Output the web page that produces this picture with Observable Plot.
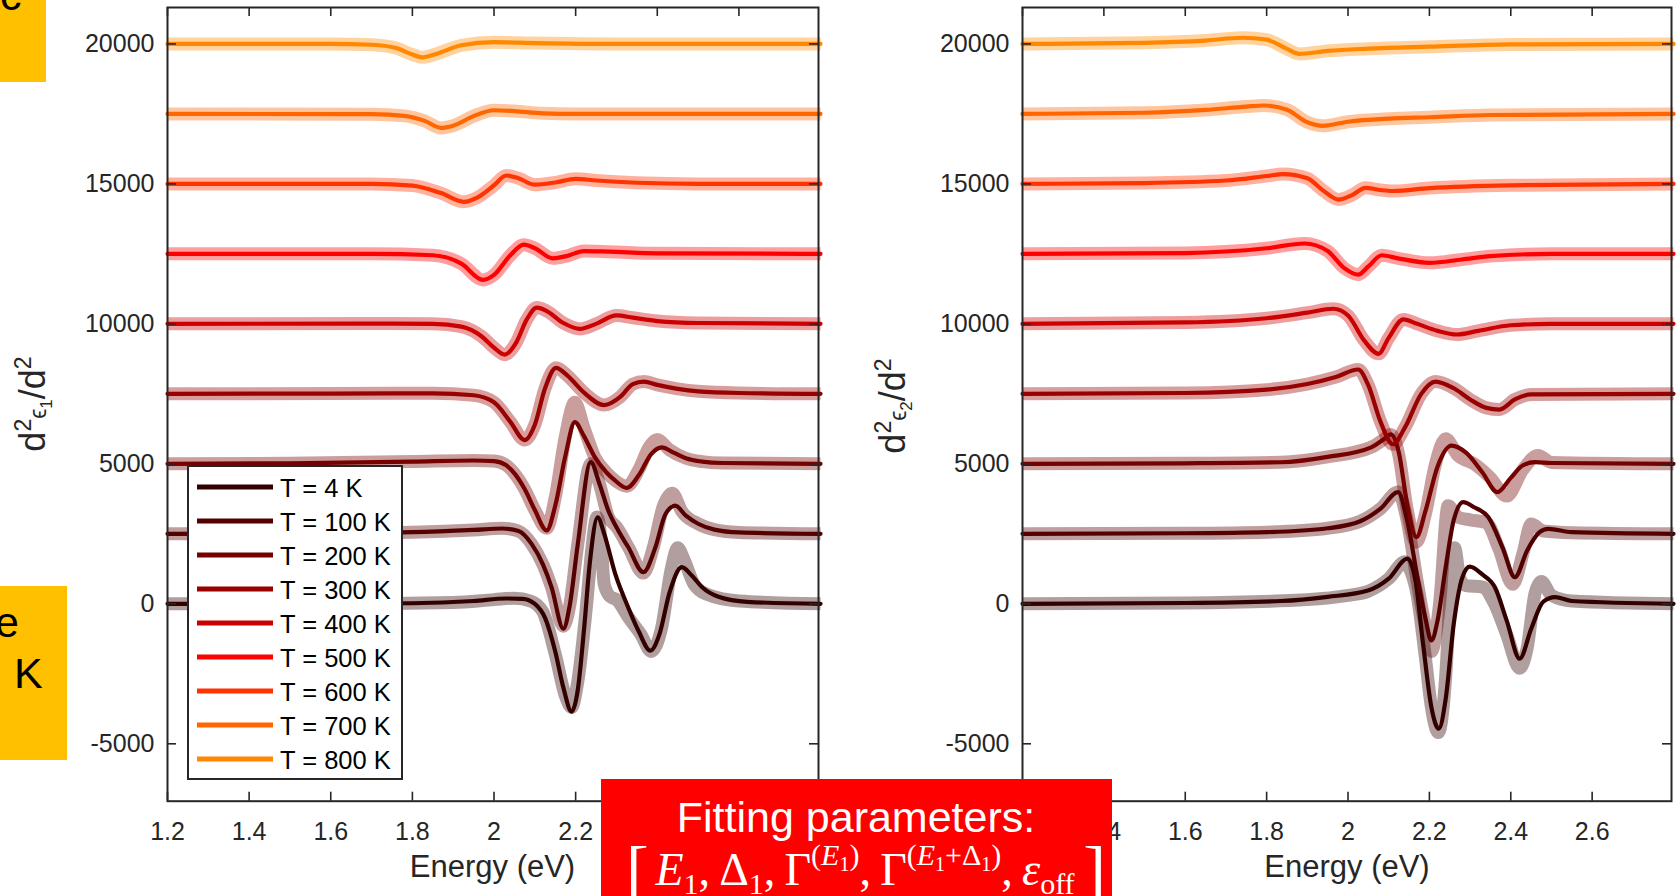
<!DOCTYPE html>
<html>
<head>
<meta charset="utf-8">
<script src="https://cdn.jsdelivr.net/npm/d3@7"></script>
<script src="https://cdn.jsdelivr.net/npm/@observablehq/plot@0.6"></script>
<style>
  html, body { margin: 0; padding: 0; background: #fff; }
  #stage { position: relative; width: 1678px; height: 896px; overflow: hidden; background: #fff;
           font-family: "Liberation Sans", Arial, sans-serif; }
  #stage > svg { position: absolute; top: 0; }
</style>
</head>
<body>
<div id="stage"></div>
<script>
// Temperatures and their line colours (dark red -> orange)
const temperatures = [4, 100, 200, 300, 400, 500, 600, 700, 800];
const lineColors = ["#330000", "#550000", "#770000", "#990000", "#cc0000", "#ff0000", "#ff3300", "#ff6600", "#ff8800"];

// Axis ticks
const xTicks = [1.2, 1.4, 1.6, 1.8, 2.0, 2.2, 2.4, 2.6];
const yTicks = [-5000, 0, 5000, 10000, 15000, 20000];

// d2 eps1 / dE2 : fitted curves, [energy (eV), value] (curves offset by 2500 per temperature)
const e1Fit4 = [[1.2,0],[1.5,0],[1.8,20],[1.95,100],[2.03,190],[2.07,180],[2.1,0],[2.125,-500],[2.15,-1700],[2.17,-3000],[2.19,-3850],[2.205,-3100],[2.22,-1000],[2.235,1500],[2.254,3090],[2.27,2500],[2.297,1070],[2.325,0],[2.355,-1000],[2.383,-1670],[2.405,-1100],[2.43,400],[2.46,1310],[2.485,1000],[2.51,590],[2.55,250],[2.62,70],[2.8,0]];
const e1Fit100 = [[1.2,2500],[1.5,2510],[1.8,2560],[1.95,2640],[2.02,2690],[2.06,2600],[2.092,2140],[2.12,1400],[2.141,590],[2.17,-890],[2.185,-100],[2.205,2100],[2.237,5060],[2.258,4300],[2.28,3330],[2.305,2600],[2.329,2020],[2.366,1130],[2.395,2000],[2.42,3200],[2.444,3510],[2.47,3150],[2.5,2860],[2.54,2650],[2.6,2550],[2.8,2500]];
const e1Fit200 = [[1.2,5000],[1.5,5020],[1.8,5080],[1.95,5120],[2.0,5100],[2.03,4950],[2.051,4640],[2.075,4100],[2.1,3350],[2.129,2620],[2.15,3500],[2.175,5300],[2.198,6490],[2.22,6000],[2.247,5240],[2.275,4700],[2.297,4400],[2.325,4140],[2.355,4600],[2.385,5350],[2.411,5590],[2.44,5400],[2.47,5200],[2.51,5080],[2.56,5030],[2.8,5000]];
const e1Fit300 = [[1.2,7500],[1.6,7510],[1.85,7520],[1.95,7450],[2.0,7200],[2.04,6500],[2.075,5850],[2.1,6400],[2.125,7700],[2.152,8430],[2.18,8150],[2.22,7550],[2.27,7100],[2.31,7400],[2.34,7850],[2.367,7940],[2.4,7820],[2.45,7680],[2.5,7590],[2.6,7530],[2.8,7500]];
const e1Fit400 = [[1.2,10000],[1.7,10010],[1.85,10000],[1.92,9900],[1.97,9550],[2.0,9150],[2.026,8900],[2.055,9350],[2.08,10150],[2.105,10580],[2.13,10450],[2.17,10030],[2.21,9820],[2.25,10000],[2.3,10300],[2.34,10220],[2.4,10100],[2.5,10030],[2.8,10000]];
const e1Fit500 = [[1.2,12500],[1.7,12500],[1.85,12450],[1.92,12150],[1.973,11570],[2.0,11750],[2.04,12450],[2.073,12830],[2.1,12700],[2.144,12340],[2.18,12430],[2.22,12600],[2.28,12580],[2.4,12520],[2.8,12500]];
const e1Fit600 = [[1.2,15000],[1.7,15000],[1.8,14940],[1.87,14670],[1.926,14360],[1.96,14520],[2.0,14950],[2.03,15300],[2.06,15200],[2.1,14970],[2.15,15050],[2.2,15180],[2.25,15120],[2.35,15040],[2.5,15000],[2.8,15000]];
const e1Fit700 = [[1.2,17500],[1.7,17490],[1.78,17430],[1.83,17250],[1.87,17000],[1.9,17080],[1.95,17420],[2.0,17630],[2.05,17600],[2.12,17520],[2.2,17500],[2.8,17500]];
const e1Fit800 = [[1.2,20000],[1.6,20000],[1.7,19970],[1.76,19850],[1.8,19620],[1.823,19520],[1.86,19650],[1.92,19950],[2.0,20060],[2.1,20030],[2.3,20000],[2.8,20000]];

// d2 eps1 / dE2 : measured data where it departs from the fit
const e1Data4 = [[1.2,0],[1.6,0],[1.9,50],[2.0,150],[2.05,200],[2.09,100],[2.12,-300],[2.15,-1800],[2.175,-3300],[2.19,-3700],[2.205,-2800],[2.225,-300],[2.24,2000],[2.252,3100],[2.262,2300],[2.27,700],[2.285,250],[2.3,150],[2.33,-500],[2.36,-1100],[2.385,-1700],[2.41,-900],[2.435,1300],[2.45,2000],[2.465,1600],[2.49,700],[2.52,350],[2.6,100],[2.8,0]];
const e1Data100 = [[1.2,2500],[1.5,2510],[1.8,2560],[1.95,2640],[2.02,2700],[2.06,2600],[2.092,2140],[2.12,1400],[2.141,590],[2.17,-800],[2.185,-100],[2.205,2100],[2.237,5000],[2.258,4300],[2.28,3100],[2.3,2750],[2.33,2000],[2.366,1100],[2.39,2000],[2.415,3500],[2.437,3950],[2.46,3300],[2.5,2860],[2.54,2650],[2.6,2550],[2.8,2500]];
const e1Data200 = [[1.2,5000],[1.5,5020],[1.8,5080],[1.95,5120],[2.0,5100],[2.03,4950],[2.051,4640],[2.075,4100],[2.1,3350],[2.129,2700],[2.15,3800],[2.175,6000],[2.198,7200],[2.22,6300],[2.247,5240],[2.275,4700],[2.297,4400],[2.325,4200],[2.355,4800],[2.38,5600],[2.4,5870],[2.43,5500],[2.47,5200],[2.51,5080],[2.56,5030],[2.8,5000]];

// d2 eps2 / dE2 : fitted curves
const e2Fit4 = [[1.2,0],[1.6,30],[1.835,100],[1.95,250],[2.049,475],[2.1,900],[2.146,1610],[2.165,900],[2.185,-1500],[2.205,-3700],[2.223,-4460],[2.24,-3400],[2.26,-700],[2.28,900],[2.299,1330],[2.33,1050],[2.361,590],[2.39,-600],[2.422,-1960],[2.45,-900],[2.48,80],[2.509,240],[2.55,100],[2.8,0]];
const e2Fit100 = [[1.2,2500],[1.6,2520],[1.8,2560],[1.95,2700],[2.03,2950],[2.08,3400],[2.123,3990],[2.145,3000],[2.17,1000],[2.19,-500],[2.205,-1310],[2.22,-600],[2.24,1300],[2.26,3000],[2.283,3630],[2.31,3450],[2.345,3090],[2.38,2000],[2.41,950],[2.44,1900],[2.47,2550],[2.492,2680],[2.55,2560],[2.8,2500]];
const e2Fit200 = [[1.2,5000],[1.6,5020],[1.835,5057],[1.95,5250],[2.057,5590],[2.09,5900],[2.105,6050],[2.125,5400],[2.145,3600],[2.168,2380],[2.19,3300],[2.22,4900],[2.254,5650],[2.29,5400],[2.33,4700],[2.367,3990],[2.4,4500],[2.43,4950],[2.459,5060],[2.5,5030],[2.8,5000]];
const e2Fit300 = [[1.2,7500],[1.6,7530],[1.8,7650],[1.9,7850],[1.97,8100],[2.025,8370],[2.05,7800],[2.08,6500],[2.11,5700],[2.14,6300],[2.18,7500],[2.215,7940],[2.26,7700],[2.3,7300],[2.34,7000],[2.372,6940],[2.41,7300],[2.45,7480],[2.8,7500]];
const e2Fit400 = [[1.2,10000],[1.6,10050],[1.8,10200],[1.9,10400],[1.964,10540],[2.0,10300],[2.04,9400],[2.075,8930],[2.1,9500],[2.136,10160],[2.17,10000],[2.22,9750],[2.267,9620],[2.32,9750],[2.4,9950],[2.5,10000],[2.8,10000]];
const e2Fit500 = [[1.2,12500],[1.6,12530],[1.8,12700],[1.893,12870],[1.95,12600],[1.99,12000],[2.025,11760],[2.05,12050],[2.083,12450],[2.12,12350],[2.2,12180],[2.28,12300],[2.35,12420],[2.5,12500],[2.8,12500]];
const e2Fit600 = [[1.2,15000],[1.5,15030],[1.7,15120],[1.8,15280],[1.84,15350],[1.9,15200],[1.94,14750],[1.977,14440],[2.01,14600],[2.043,14860],[2.08,14780],[2.11,14745],[2.2,14850],[2.4,14950],[2.8,15000]];
const e2Fit700 = [[1.2,17500],[1.5,17540],[1.65,17640],[1.75,17760],[1.793,17800],[1.85,17650],[1.9,17200],[1.938,17075],[2.0,17220],[2.1,17330],[2.2,17380],[2.35,17460],[2.8,17500]];
const e2Fit800 = [[1.2,20000],[1.5,20040],[1.65,20120],[1.74,20220],[1.8,20150],[1.85,19820],[1.88,19640],[1.95,19750],[2.05,19830],[2.2,19900],[2.4,19980],[2.8,20000]];

// d2 eps2 / dE2 : measured data where it departs from the fit
const e2Data4 = [[1.2,0],[1.6,30],[1.9,150],[2.0,300],[2.05,450],[2.1,900],[2.14,1500],[2.15,1300],[2.17,300],[2.19,-1900],[2.205,-3700],[2.222,-4600],[2.24,-2600],[2.25,0],[2.262,2000],[2.275,900],[2.29,650],[2.33,600],[2.36,0],[2.39,-1100],[2.422,-2300],[2.44,-1600],[2.46,400],[2.475,800],[2.5,300],[2.55,100],[2.8,0]];
const e2Data100 = [[1.2,2500],[1.6,2520],[1.8,2560],[1.95,2700],[2.03,2950],[2.08,3400],[2.123,3990],[2.145,3000],[2.17,800],[2.19,-800],[2.205,-1700],[2.225,0],[2.246,3500],[2.27,3100],[2.3,3000],[2.34,2900],[2.37,2000],[2.405,700],[2.43,1800],[2.45,2850],[2.48,2600],[2.55,2540],[2.8,2500]];
const e2Data200 = [[1.2,5000],[1.6,5020],[1.835,5057],[1.95,5250],[2.057,5590],[2.09,5900],[2.105,6050],[2.125,5300],[2.145,3400],[2.168,2200],[2.19,3200],[2.215,5000],[2.24,5900],[2.27,5300],[2.31,5000],[2.35,4500],[2.39,3850],[2.43,4800],[2.467,5300],[2.5,5050],[2.8,5000]];

const e1Fits = [e1Fit4, e1Fit100, e1Fit200, e1Fit300, e1Fit400, e1Fit500, e1Fit600, e1Fit700, e1Fit800];
const e1Data = [e1Data4, e1Data100, e1Data200, e1Fit300, e1Fit400, e1Fit500, e1Fit600, e1Fit700, e1Fit800];
const e2Fits = [e2Fit4, e2Fit100, e2Fit200, e2Fit300, e2Fit400, e2Fit500, e2Fit600, e2Fit700, e2Fit800];
const e2Data = [e2Data4, e2Data100, e2Data200, e2Fit300, e2Fit400, e2Fit500, e2Fit600, e2Fit700, e2Fit800];

const toRows = (series) => series.flatMap((pts, i) => pts.map(([E, v]) => ({E, v, T: temperatures[i]})));
const fmtE = d => String(+d.toFixed(1));
const fmtY = d => String(d);
const ink = "#262626";
const font = '"Liberation Sans", Arial, Helvetica, sans-serif';

function panel({fits, data, marginLeft, marginRight}) {
  const W = 839, H = 896, mt = 7, mb = 95.3;
  const innerW = W - marginLeft - marginRight, innerH = H - mt - mb;
  return Plot.plot({
    width: W, height: H,
    marginLeft, marginRight, marginTop: mt, marginBottom: mb,
    style: {fontFamily: font, fontSize: "25px", color: ink, background: "transparent", overflow: "visible"},
    x: {domain: [1.2, 2.795]},
    y: {domain: [-7050, 21300]},
    color: {type: "ordinal", domain: temperatures, range: lineColors},
    marks: [
      Plot.line(toRows(data), {x: "E", y: "v", z: "T", stroke: "T", strokeWidth: 13, strokeOpacity: 0.38,
        curve: "monotone-x", strokeLinejoin: "round", strokeLinecap: "butt"}),
      Plot.line(toRows(fits), {x: "E", y: "v", z: "T", stroke: "T", strokeWidth: 4.2,
        curve: "monotone-x", strokeLinejoin: "round"}),
      // inward ticks on all four sides
      Plot.gridX(xTicks, {insetTop: innerH - 9, stroke: ink, strokeOpacity: 1, strokeWidth: 1.6}),
      Plot.gridX(xTicks, {insetBottom: innerH - 9, stroke: ink, strokeOpacity: 1, strokeWidth: 1.6}),
      Plot.gridY(yTicks, {insetRight: innerW - 9, stroke: ink, strokeOpacity: 1, strokeWidth: 1.6}),
      Plot.gridY(yTicks, {insetLeft: innerW - 9, stroke: ink, strokeOpacity: 1, strokeWidth: 1.6}),
      Plot.axisX(xTicks, {tickSize: 0, tickPadding: 21, tickFormat: fmtE, label: null, fontSize: 25}),
      Plot.axisY(yTicks, {tickSize: 0, tickPadding: 13, tickFormat: fmtY, label: null, fontSize: 25}),
      Plot.frame({stroke: ink, strokeWidth: 2})
    ]
  });
}

const stage = d3.select("#stage");
const left = panel({fits: e1Fits, data: e1Data, marginLeft: 167, marginRight: 21});
const right = panel({fits: e2Fits, data: e2Data, marginLeft: 183, marginRight: 7});
left.style.left = "0px";
right.style.left = "839px";
stage.node().append(left, right);

// Overlay: axis titles, legend and annotation boxes
const ov = stage.append("svg")
  .attr("width", 1678).attr("height", 896)
  .style("left", "0px").style("font-family", font);

// x-axis titles
for (const cx of [492.5, 1347]) {
  ov.append("text").attr("x", cx).attr("y", 877).attr("text-anchor", "middle")
    .attr("font-size", 31).attr("fill", ink).text("Energy (eV)");
}

// y-axis titles d²ϵ₁/d² and d²ϵ₂/d²
function yTitle(x, y, idx) {
  const t = ov.append("text").attr("transform", `translate(${x},${y}) rotate(-90)`)
    .attr("text-anchor", "middle").attr("fill", ink).attr("font-size", 36);
  t.append("tspan").text("d");
  t.append("tspan").attr("font-size", 23).attr("dy", -14).text("2");
  t.append("tspan").attr("font-size", 23).attr("dy", 15).text("\u03F5");
  t.append("tspan").attr("font-size", 17).attr("dy", 6).text(idx);
  t.append("tspan").attr("dy", -7).text("/d");
  t.append("tspan").attr("font-size", 23).attr("dy", -14).text("2");
}
yTitle(45, 404, "1");
yTitle(905, 406, "2");

// legend
const lg = ov.append("g");
lg.append("rect").attr("x", 188).attr("y", 466).attr("width", 214).attr("height", 313)
  .attr("fill", "#fff").attr("stroke", ink).attr("stroke-width", 2);
temperatures.forEach((T, i) => {
  const y = 487 + i * 34;
  lg.append("line").attr("x1", 197).attr("x2", 273).attr("y1", y).attr("y2", y)
    .attr("stroke", lineColors[i]).attr("stroke-width", 5);
  lg.append("text").attr("x", 280).attr("y", y).attr("dy", "0.38em")
    .attr("font-size", 25.5).attr("fill", "#000").text(`T = ${T} K`);
});

// side tabs
ov.append("rect").attr("x", 0).attr("y", 0).attr("width", 46).attr("height", 82).attr("fill", "#ffc000");
ov.append("text").attr("x", 0).attr("y", 10).attr("font-size", 43).attr("fill", "#000").text("c");
ov.append("rect").attr("x", 0).attr("y", 586).attr("width", 67).attr("height", 174).attr("fill", "#ffc000");
ov.append("text").attr("x", 19).attr("y", 637).attr("text-anchor", "end").attr("font-size", 43).attr("fill", "#000").text("e");
ov.append("text").attr("x", 14).attr("y", 688).attr("font-size", 43).attr("fill", "#000").text("K");

// fitting-parameter banner
ov.append("rect").attr("x", 601).attr("y", 779).attr("width", 511).attr("height", 130).attr("fill", "#ff0000");
ov.append("text").attr("x", 856).attr("y", 832).attr("text-anchor", "middle")
  .attr("font-size", 43).attr("fill", "#fff").text("Fitting parameters:");
const serif = '"Liberation Serif", "Times New Roman", serif';
ov.append("text").attr("x", 626).attr("y", 893).attr("font-family", serif)
  .attr("font-size", 68).attr("fill", "#fff").text("[");
ov.append("text").attr("x", 1106).attr("y", 893).attr("text-anchor", "end").attr("font-family", serif)
  .attr("font-size", 68).attr("fill", "#fff").text("]");
const m = ov.append("text").attr("x", 865).attr("y", 885).attr("text-anchor", "middle")
  .attr("font-family", serif).attr("font-size", 46).attr("fill", "#fff");
const parts = [
  ["E", 46, 0, true], ["1", 30, 9], [",\u2009", 46, -9],
  ["\u0394", 46, 0], ["1", 30, 9], [",\u2009", 46, -9],
  ["\u0393", 46, 0], ["(", 30, -20], ["E", 30, 0, true], ["1", 20, 6], [")", 30, -6], [",\u2009", 46, 20],
  ["\u0393", 46, 0], ["(", 30, -20], ["E", 30, 0, true], ["1", 20, 6], ["+\u0394", 30, -6], ["1", 20, 6], [")", 30, -6], [",\u2009", 46, 20],
  ["\u03B5", 46, 0, true], ["off", 30, 9]
];
for (const [txt, size, dy, it] of parts) {
  m.append("tspan").attr("font-size", size).attr("dy", dy)
    .attr("font-style", it ? "italic" : "normal").text(txt);
}
</script>
</body>
</html>
